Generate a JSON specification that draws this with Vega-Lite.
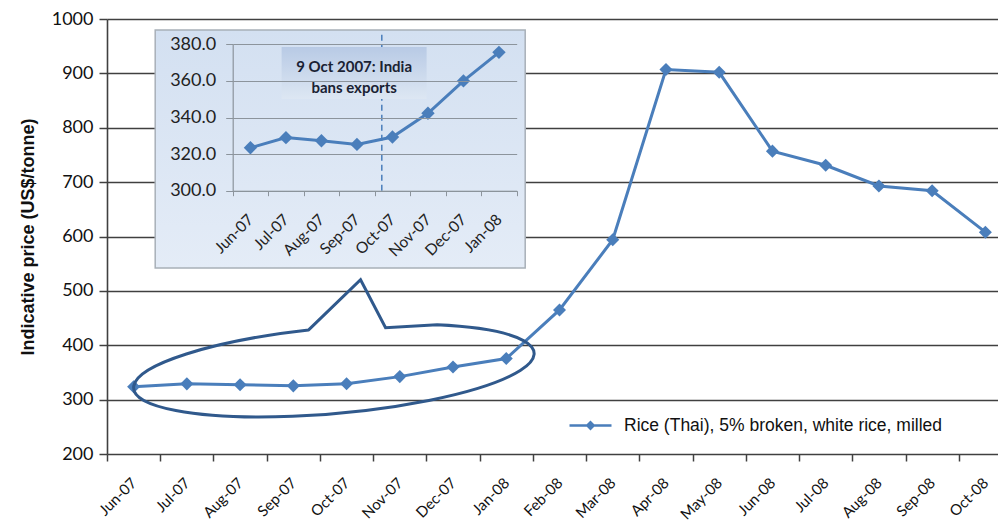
{
  "$schema": "https://vega.github.io/schema/vega-lite/v6.json",
  "width": 885,
  "height": 435,
  "autosize": {"type": "none"},
  "padding": {"left": 107, "top": 19, "right": 6, "bottom": 70},
  "background": "white",
  "config": {"view": {"stroke": null}, "font": "Lato"},
  "data": {"values": [
    {"month": "Jun-07", "price": 323.5},
    {"month": "Jul-07", "price": 329},
    {"month": "Aug-07", "price": 327.3},
    {"month": "Sep-07", "price": 325.3},
    {"month": "Oct-07", "price": 329.3},
    {"month": "Nov-07", "price": 342.3},
    {"month": "Dec-07", "price": 360},
    {"month": "Jan-08", "price": 375.6},
    {"month": "Feb-08", "price": 465},
    {"month": "Mar-08", "price": 594},
    {"month": "Apr-08", "price": 907},
    {"month": "May-08", "price": 902},
    {"month": "Jun-08", "price": 757},
    {"month": "Jul-08", "price": 731},
    {"month": "Aug-08", "price": 693},
    {"month": "Sep-08", "price": 684},
    {"month": "Oct-08", "price": 608}
  ]},
  "layer": [
    {
      "layer": [
        {
          "mark": {"type": "line", "strokeWidth": 3},
          "encoding": {
            "x": {
              "field": "month", "type": "nominal",
              "scale": {"type": "band", "domain": ["Jun-07","Jul-07","Aug-07","Sep-07","Oct-07","Nov-07","Dec-07","Jan-08","Feb-08","Mar-08","Apr-08","May-08","Jun-08","Jul-08","Aug-08","Sep-08","Oct-08"], "paddingInner": 0, "paddingOuter": 0, "range": [0, 905]},
              "axis": {"title": null, "tickBand": "extent", "labelAngle": -45, "labelAlign": "right", "labelBaseline": "middle", "labelFontSize": 15, "labelColor": "#111", "tickSize": 7, "tickColor": "#404040", "tickWidth": 1.5, "domain": false, "labelPadding": 19}
            },
            "y": {
              "field": "price", "type": "quantitative",
              "scale": {"domain": [200, 1000], "nice": false, "zero": false},
              "axis": {"title": "Indicative price (US$/tonne)", "values": [200,300,400,500,600,700,800,900,1000], "format": "d", "grid": true, "gridColor": "#404040", "gridWidth": 1.6, "domainColor": "#404040", "domainWidth": 1.6, "tickColor": "#404040", "tickWidth": 1.5, "tickSize": 8, "labelFontSize": 18, "labelColor": "#111", "labelPadding": 6, "titleFont": "Liberation Sans", "titleFontSize": 18, "titleFontWeight": "bold", "titleColor": "#111", "titlePadding": 14}
            },
            "color": {
              "datum": "Rice (Thai), 5% broken, white rice, milled",
              "type": "nominal",
              "scale": {"range": ["#4a7ebb"]},
              "legend": {"orient": "none", "legendX": 461, "legendY": 384, "title": null, "padding": 0, "symbolType": "M-1,0H1M-0.15,0L0,-0.15L0.15,0L0,0.15Z", "symbolSize": 1764, "symbolStrokeWidth": 2.5, "symbolFillColor": "#4a7ebb", "labelFont": "Liberation Sans", "labelFontSize": 17.5, "labelColor": "#111", "labelOffset": 11, "labelLimit": 500}
            }
          }
        },
        {
          "mark": {"type": "point", "shape": "diamond", "filled": true, "size": 170, "color": "#4a7ebb", "opacity": 1},
          "encoding": {
            "x": {"field": "month", "type": "nominal"},
            "y": {"field": "price", "type": "quantitative"}
          }
        },
        {
          "data": {"values": [{}]},
          "mark": {"type": "point", "shape": "M-37.9,-39.8L14,-90L39,-42L90.5,-44.9A201,43,-5.1,1,1,-37.9,-39.8Z", "size": 4, "filled": false, "stroke": "#30598c", "strokeWidth": 3, "opacity": 1},
          "encoding": {
            "x": {"datum": "Oct-07", "type": "nominal"},
            "y": {"datum": 355, "type": "quantitative"}
          }
        }
      ]
    },
    {
      "transform": [{"filter": {"field": "month", "oneOf": ["Jun-07","Jul-07","Aug-07","Sep-07","Oct-07","Nov-07","Dec-07","Jan-08"]}}],
      "layer": [
        {
          "data": {"values": [{}]},
          "mark": {"type": "point", "shape": "M-184,-119H186V119H-184Z", "size": 4, "filled": true, "opacity": 1, "fillOpacity": 1,
            "fill": {"gradient": "linear", "x1": 0, "y1": 0, "x2": 0, "y2": 1, "stops": [{"offset": 0, "color": "#d3e0f1"}, {"offset": 1, "color": "#e4ecf7"}]},
            "stroke": "#a8b0b8", "strokeWidth": 1.5},
          "encoding": {
            "x": {"datum": "Sep-07", "type": "nominal", "bandPosition": 0},
            "y": {"datum": 322.8, "type": "quantitative"}
          }
        },
        {
          "data": {"values": [{}]},
          "mark": {"type": "rule", "strokeDash": [6, 4], "color": "#4a7ebb", "strokeWidth": 1.5},
          "encoding": {
            "x": {"datum": "Oct-07", "type": "nominal", "bandPosition": 0.2},
            "y": {"datum": 300, "type": "quantitative"},
            "y2": {"datum": 387}
          }
        },
        {
          "data": {"values": [{}]},
          "mark": {"type": "point", "shape": "M-72.5,-26H72.5V26H-72.5Z", "size": 4, "filled": true, "opacity": 1, "fillOpacity": 1, "strokeWidth": 0,
            "fill": {"gradient": "linear", "x1": 0, "y1": 0, "x2": 0, "y2": 1, "stops": [{"offset": 0, "color": "#b8cae5"}, {"offset": 1, "color": "#dde7f3"}]}},
          "encoding": {
            "x": {"datum": "Sep-07", "type": "nominal", "bandPosition": 0.42},
            "y": {"datum": 364.3, "type": "quantitative"}
          }
        },
        {
          "data": {"values": [{}]},
          "mark": {"type": "text", "text": ["9 Oct 2007: India", "bans exports"], "lineHeight": 21, "fontWeight": "bold", "fontSize": 15, "font": "Lato", "color": "#1a2233", "baseline": "middle", "align": "center"},
          "encoding": {
            "x": {"datum": "Sep-07", "type": "nominal", "bandPosition": 0.42},
            "y": {"datum": 367.8, "type": "quantitative"}
          }
        },
        {
          "mark": {"type": "line", "strokeWidth": 3, "color": "#4a7ebb"},
          "encoding": {
            "x": {
              "field": "month", "type": "nominal",
              "scale": {"type": "band", "domain": ["Jun-07","Jul-07","Aug-07","Sep-07","Oct-07","Nov-07","Dec-07","Jan-08"], "paddingInner": 0, "paddingOuter": 0, "range": [125.7, 409.7]},
              "axis": {"orient": "bottom", "offset": -263.3, "title": null, "tickBand": "extent", "labelAngle": -45, "labelAlign": "right", "labelBaseline": "middle", "labelFontSize": 15.5, "labelColor": "#222", "tickSize": 5, "tickColor": "#8c949c", "domainColor": "#8c949c", "labelPadding": 21, "zindex": 1}
            },
            "y": {
              "field": "price", "type": "quantitative",
              "scale": {"domain": [300, 380], "range": [171.7, 25.3], "nice": false, "zero": false},
              "axis": {"orient": "left", "offset": -125.7, "values": [300,320,340,360,380], "format": ".1f", "title": null, "grid": true, "gridColor": "#8c949c", "gridWidth": 1, "domainColor": "#8c949c", "domainWidth": 1.2, "tickColor": "#8c949c", "tickSize": 7, "labelFontSize": 18, "labelColor": "#222", "labelPadding": 10, "zindex": 1}
            }
          }
        },
        {
          "mark": {"type": "point", "shape": "diamond", "filled": true, "size": 180, "color": "#4a7ebb", "opacity": 1},
          "encoding": {
            "x": {"field": "month", "type": "nominal"},
            "y": {"field": "price", "type": "quantitative"}
          }
        }
      ]
    }
  ],
  "resolve": {"scale": {"x": "independent", "y": "independent"}, "axis": {"x": "independent", "y": "independent"}}
}
